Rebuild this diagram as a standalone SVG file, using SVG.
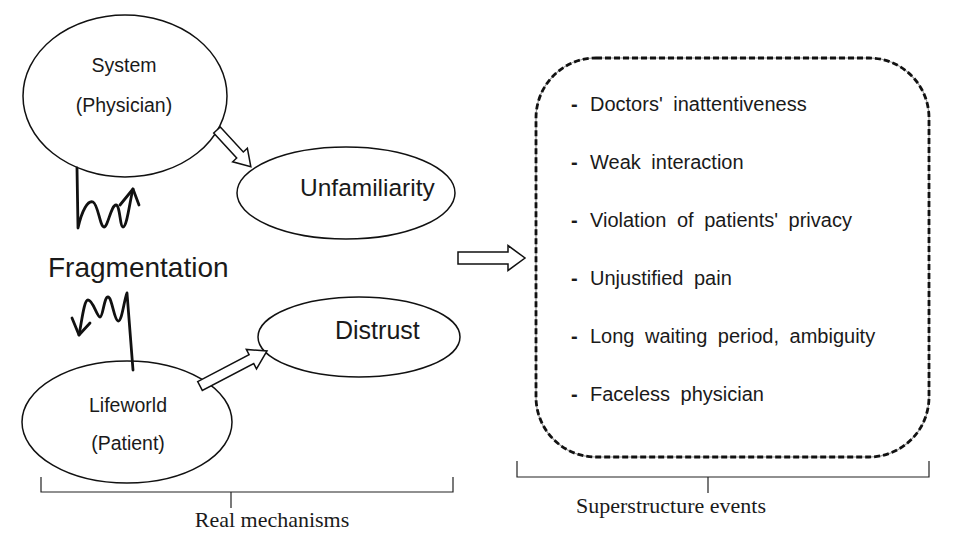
<svg xmlns="http://www.w3.org/2000/svg" width="953" height="553" viewBox="0 0 953 553">
<style>
.node{fill:#fff;stroke:#111;stroke-width:1.5}
.t{font-family:"Liberation Sans",Arial,sans-serif;fill:#1a1a1a}
.s{font-family:"Liberation Serif","Times New Roman",serif;fill:#1a1a1a;font-size:22px}
.hollow{fill:#fff;stroke:#111;stroke-width:1.5;stroke-linejoin:miter}
.wave{fill:none;stroke:#111;stroke-width:2.8;stroke-linecap:round;stroke-linejoin:round}
.br{fill:none;stroke:#222;stroke-width:1.2}
.item{font-size:20px;word-spacing:5px}
.dash{font-weight:bold}
</style>
<rect width="953" height="553" fill="#fff"/>
<g id="system">
<ellipse class="node" cx="125" cy="96" rx="102" ry="81"/>
<text class="t" x="124" y="72" font-size="19.5" text-anchor="middle">System</text>
<text class="t" x="124" y="112" font-size="19.5" text-anchor="middle">(Physician)</text>
</g>
<g id="lifeworld">
<ellipse class="node" cx="127" cy="422" rx="105" ry="61"/>
<text class="t" x="128" y="412" font-size="19.5" text-anchor="middle">Lifeworld</text>
<text class="t" x="128" y="450" font-size="19.5" text-anchor="middle">(Patient)</text>
</g>
<g id="unfamiliarity">
<ellipse class="node" cx="346" cy="193" rx="109" ry="46"/>
<text class="t" x="300" y="196" font-size="24.5">Unfamiliarity</text>
</g>
<g id="distrust">
<ellipse class="node" cx="359" cy="337" rx="101" ry="40"/>
<text class="t" x="335" y="339" font-size="25">Distrust</text>
</g>
<g id="fragmentation">
<text class="t" x="48" y="277" font-size="28">Fragmentation</text>
</g>
<g id="events">
<rect x="536" y="58" width="393" height="399" rx="60" ry="60" fill="none" stroke="#999" stroke-width="1.2"/>
<rect x="536" y="58" width="393" height="399" rx="60" ry="60" fill="none" stroke="#111" stroke-width="2.8" stroke-dasharray="6 3"/>
<g class="t item">
<text x="571" y="111"><tspan class="dash">-</tspan><tspan x="590">Doctors' inattentiveness</tspan></text>
<text x="571" y="169"><tspan class="dash">-</tspan><tspan x="590">Weak interaction</tspan></text>
<text x="571" y="227"><tspan class="dash">-</tspan><tspan x="590">Violation of patients' privacy</tspan></text>
<text x="571" y="285"><tspan class="dash">-</tspan><tspan x="590">Unjustified pain</tspan></text>
<text x="571" y="343"><tspan class="dash">-</tspan><tspan x="590">Long waiting period, ambiguity</tspan></text>
<text x="571" y="401"><tspan class="dash">-</tspan><tspan x="590">Faceless physician</tspan></text>
</g>
</g>
<g id="connectors">
<path class="hollow" transform="translate(217,130) rotate(47.4)" d="M0,-4.5 L34,-4.5 L34,-10 L50,0 L34,10 L34,4.5 L0,4.5 Z"/>
<path class="hollow" transform="translate(200,386) rotate(-27.6)" d="M0,-5 L58,-5 L58,-11 L75.6,0 L58,11 L58,5 L0,5 Z"/>
<path class="hollow" d="M458,252 L508,252 L508,245.5 L525,258 L508,270.5 L508,264 L458,264 Z"/>
<path class="wave" d="M77,168 L78,228 C82,210 88,200 93,202 C98,204 100,227 104,227 C108,227 111,205 116,205 C120,205 120,227 123,227 C127,227 130,200 133,189"/>
<path class="wave" d="M120,205 L133,189 L139,205"/>
<path class="wave" d="M133,370 L127,293 C124,300 122,322 118,321 C114,320 112,297 108,297 C104,297 103,317 100,317 C97,317 93,300 88,300 C84,300 82,320 79,335"/>
<path class="wave" d="M72,318 L79,335 L90,323"/>
</g>
<g id="brackets">
<path class="br" d="M41,477 L41,492 L453,492 L453,477 M231,492 L231,508"/>
<path class="br" d="M517,461 L517,477 L929,477 L929,461 M708,477 L708,493"/>
<text class="s" x="272" y="527" text-anchor="middle">Real mechanisms</text>
<text class="s" x="671" y="513" text-anchor="middle">Superstructure events</text>
</g>
</svg>
